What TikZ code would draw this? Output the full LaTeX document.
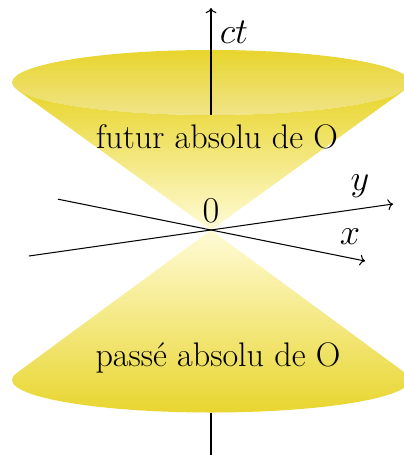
\documentclass[tikz,border=0pt]{standalone}
\usepackage{tikz}
\usetikzlibrary{arrows.meta,positioning,calc}
\definecolor{cY}{HTML}{E8D52C}
\definecolor{cM}{HTML}{F0E489}
\definecolor{cL}{HTML}{FFFBD6}
\tikzset{
  axis/.style={->,semithick},
  tick/.style={semithick},
  lab/.style={font=\fontsize{19.4}{23}\selectfont},
}
\begin{document}
\begin{tikzpicture}
  \useasboundingbox (-4.22,-4.5) rectangle (3.84,4.6);
  \def\a{3.98}\def\b{0.65}\def\hT{2.95}\def\hB{3.0}
  \pgfmathsetmacro\tT{asin(\b/\hT)}
  \pgfmathsetmacro\tB{asin(\b/\hB)}
  \coordinate (O) at (0,0);
  \coordinate (topRim) at (0,\hT-\b);
  \coordinate (botRim) at (0,-\hB-\b);
  \coordinate (ctT) at (0,4.44);
  \coordinate (ctB) at (0,-4.5);
  \coordinate (xS) at (-3.06,0.616);
  \coordinate (xE) at (3.08,-0.62);
  \coordinate (yS) at (-3.64,-0.52);
  \coordinate (yE) at (3.64,0.52);
  % future cone
  \shade[top color=cY,bottom color=cM] (0,\hT) ellipse[x radius=\a,y radius=\b];
  \draw[axis] (topRim) -- (ctT);
  \shade[top color=cY,bottom color=cL] (O)
    -- ({\a*cos(180+\tT)},{\hT+\b*sin(180+\tT)})
    arc[start angle=180+\tT,end angle=360-\tT,x radius=\a,y radius=\b] -- cycle;
  % past cone
  \shade[top color=cL,bottom color=cY] (O)
    -- ({\a*cos(\tB)},{-\hB+\b*sin(\tB)})
    arc[start angle=\tB,end angle=-180-\tB,x radius=\a,y radius=\b] -- cycle;
  \draw[tick] (botRim) -- (ctB);
  % space axes
  \draw[axis] (xS) -- (xE);
  \draw[axis] (yS) -- (yE);
  \node[lab] (ctlab) at (0.46,3.96) {$ct$};
  \node[lab] (ylab) at (2.98,0.88) {$y$};
  \node[lab] (xlab) at (2.78,-0.14) {$x$};
  \node[lab] (zero) at (0,0.38) {$0$};
  \node[lab] (futur) at (0.12,1.86) {futur absolu de O};
  \node[lab] (passe) at (0.14,-2.56) {passé absolu de O};
\end{tikzpicture}
\end{document}
